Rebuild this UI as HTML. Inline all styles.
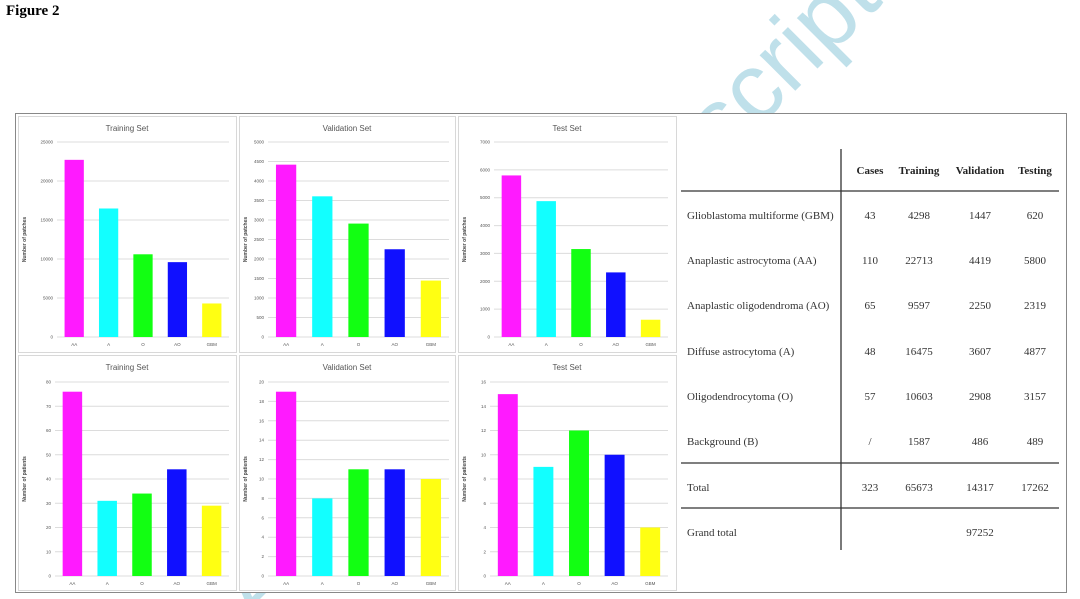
<!DOCTYPE html>
<html><head><meta charset="utf-8"><style>
html,body{margin:0;padding:0;background:#fff;overflow:hidden;width:1080px;height:599px;}
svg{display:block;}
</style></head><body>
<svg id="s" width="1080" height="599" viewBox="0 0 1080 599" xmlns="http://www.w3.org/2000/svg">
<defs><clipPath id="cp"><rect width="1080" height="599"/></clipPath></defs>
<rect width="1080" height="599" fill="#fff"/>
<g clip-path="url(#cp)">
<text x="0" y="0" transform="translate(884,2) rotate(-45)" text-anchor="end" font-family="Liberation Sans, sans-serif" font-size="95" fill="#bfe0ea">Accepted Manuscript</text>
</g>
<text x="6" y="15" font-family="Liberation Serif, serif" font-weight="bold" font-size="15">Figure 2</text>
<rect x="15.5" y="113.5" width="1051" height="479" fill="#fff" stroke="#888" stroke-width="1"/>
<g id="charts"></g>
<g font-family="Liberation Serif, serif" font-size="11" fill="#333">
<line x1="841" y1="149" x2="841" y2="550" stroke="#333" stroke-width="1.3"/>
<line x1="681" y1="191" x2="1059" y2="191" stroke="#333" stroke-width="1.3"/>
<line x1="681" y1="463" x2="1059" y2="463" stroke="#333" stroke-width="1.3"/>
<line x1="681" y1="508" x2="1059" y2="508" stroke="#333" stroke-width="1.3"/>
<g font-weight="bold" text-anchor="middle" fill="#222">
<text x="870" y="174">Cases</text><text x="919" y="174">Training</text><text x="980" y="174">Validation</text><text x="1035" y="174">Testing</text>
</g>
<g id="rows"></g>
</g>
</svg>
<script>
var NS="http://www.w3.org/2000/svg";
function el(p,t,a,txt){var e=document.createElementNS(NS,t);for(var k in a)e.setAttribute(k,a[k]);if(txt!==undefined)e.textContent=txt;p.appendChild(e);return e;}
var g=document.getElementById('charts');
var cols=['#ff1aff','#12ffff','#12ff12','#1010ff','#ffff12'];
var cats=['AA','A','O','AO','GBM'];
function chart(px,py,pw,ph,title,plx,prx,top,zero,max,step,vals,yl){
 el(g,'rect',{x:px+.5,y:py+.5,width:pw,height:ph,fill:'#fff',stroke:'#d8d8d8'});
 el(g,'text',{x:px+pw/2,y:py+15,'text-anchor':'middle','font-family':'Liberation Sans, sans-serif','font-size':'8',fill:'#555'},title);
 for(var v=0;v<=max;v+=step){var y=zero-(zero-top)*v/max;
  el(g,'line',{x1:plx,x2:prx,y1:y,y2:y,stroke:'#dcdcdc','stroke-width':1});
  el(g,'text',{x:plx-4,y:y+1.5,'text-anchor':'end','font-family':'Liberation Sans, sans-serif','font-size':'4.5',fill:'#555'},v);}
 var cw=(prx-plx)/5;
 for(var i=0;i<5;i++){var h=(zero-top)*vals[i]/max;var x=plx+cw*i+cw*0.22;
  el(g,'rect',{x:x,y:zero-h,width:cw*0.56,height:h,fill:cols[i]});
  el(g,'text',{x:plx+cw*(i+0.5),y:zero+9,'text-anchor':'middle','font-family':'Liberation Sans, sans-serif','font-size':'4.5',fill:'#555'},cats[i]);}
 var cy=(top+zero)/2;
 el(g,'text',{x:0,y:0,transform:'translate('+(px+8)+','+cy+') rotate(-90)','text-anchor':'middle','font-family':'Liberation Sans, sans-serif','font-size':'5','font-weight':'bold',fill:'#444'},yl);
}
chart(18,116,218,236,'Training Set',57,229,142,337,25000,5000,[22713,16475,10603,9597,4298],'Number of patches');
chart(239,116,216,236,'Validation Set',268,449,142,337,5000,500,[4419,3607,2908,2250,1447],'Number of patches');
chart(458,116,218,236,'Test Set',494,668,142,337,7000,1000,[5800,4877,3157,2319,620],'Number of patches');
chart(18,355,218,235,'Training Set',55,229,382,576,80,10,[76,31,34,44,29],'Number of patients');
chart(239,355,216,235,'Validation Set',268,449,382,576,20,2,[19,8,11,11,10],'Number of patients');
chart(458,355,218,235,'Test Set',490,668,382,576,16,2,[15,9,12,10,4],'Number of patients');
var rows=[['Glioblastoma multiforme (GBM)','43','4298','1447','620'],['Anaplastic astrocytoma (AA)','110','22713','4419','5800'],['Anaplastic oligodendroma (AO)','65','9597','2250','2319'],['Diffuse astrocytoma (A)','48','16475','3607','4877'],['Oligodendrocytoma (O)','57','10603','2908','3157'],['Background (B)','/','1587','486','489'],['Total','323','65673','14317','17262'],['Grand total','','','97252','']];
var ys=[219,264,309,355,400,445,491,536],cx=[870,919,980,1035];
var r=document.getElementById('rows');
rows.forEach(function(row,i){el(r,'text',{x:687,y:ys[i]},row[0]);for(var j=1;j<5;j++)if(row[j])el(r,'text',{x:cx[j-1],y:ys[i],'text-anchor':'middle'},row[j]);});
</script>
</body></html>
